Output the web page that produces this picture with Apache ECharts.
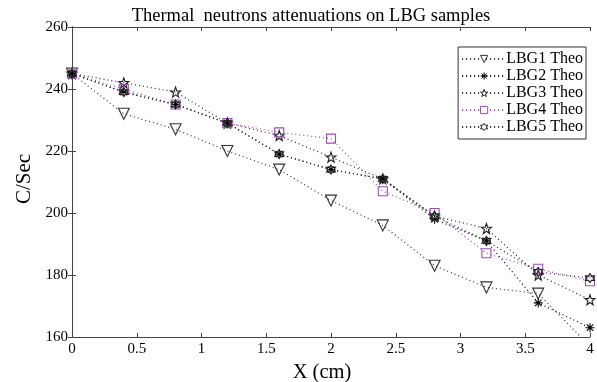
<!DOCTYPE html>
<html>
<head>
<meta charset="utf-8">
<script src="https://cdn.jsdelivr.net/npm/echarts@6/dist/echarts.min.js"></script>
<style>
  html, body { margin: 0; padding: 0; background: #fff; }
  #chart { width: 597px; height: 382px; }
</style>
</head>
<body>
<div id="chart"></div>
<script>
/* ---------- data ---------- */
const xs = [0, 0.4, 0.8, 1.2, 1.6, 2.0, 2.4, 2.8, 3.2, 3.6, 4.0];
const lbg1 = [245, 232, 227, 220, 214, 204, 196, 183, 176, 174, 157];
const lbg2 = [245, 239, 235, 229, 219, 214, 211, 198, 191, 171, 163];
const lbg3 = [245, 242, 239, 229, 225, 218, 211, 199, 195, 180, 172];
const lbg4 = [245, 240, 235, 229, 226, 224, 207, 200, 187, 182, 178];
const lbg5 = [245, 239, 235, 229, 219, 214, 211, 199, 191, 181, 179];
const seriesNames = ["LBG1 Theo", "LBG2 Theo", "LBG3 Theo", "LBG4 Theo", "LBG5 Theo"];
const xTicks = { min: 0, max: 4, interval: 0.5 };
const yTicks = { min: 160, max: 260, interval: 20 };

/* ---------- marker shapes ---------- */
function starPath(n, rOut, rIn) {
  let d = "";
  for (let i = 0; i < n * 2; i++) {
    const r = i % 2 === 0 ? rOut : rIn;
    const a = -Math.PI / 2 + (i * Math.PI) / n;
    d += (i === 0 ? "M" : "L") + (r * Math.cos(a)).toFixed(2) + "," + (r * Math.sin(a)).toFixed(2);
  }
  return "path://" + d + "Z";
}
const triDown = "path://M-5,-4L5,-4L0,5Z";
const asterisk = "path://M0,-5L0,5M-5,0L5,0M-3.6,-3.6L3.6,3.6M-3.6,3.6L3.6,-3.6";
const pentagram = starPath(5, 5, 2);
const hexagram = starPath(6, 5, 2.9);

const purple = "#9b4db3";

function pairs(ys) { return xs.map((x, i) => [x, ys[i]]); }

function mk(name, ys, symbol, size, color) {
  return {
    name: name,
    type: "line",
    data: pairs(ys),
    symbol: symbol,
    symbolSize: size,
    showSymbol: true,
    z: 3,
    lineStyle: { type: [1, 3], width: 1.2, color: color },
    itemStyle: { color: "rgba(255,255,255,0)", borderColor: color, borderWidth: 1.1 },
    emphasis: { disabled: true },
    animation: false,
  };
}

const chart = echarts.init(document.getElementById("chart"));

const serif = "Liberation Serif";
const axisCol = "#444";

const option = {
  animation: false,
  backgroundColor: "#fff",
  title: {
    text: "Thermal  neutrons attenuations on LBG samples",
    left: 306,
    textAlign: "center",
    top: 2,
    textStyle: { fontFamily: serif, fontSize: 18.5, fontWeight: "normal", color: "#000" },
  },
  grid: { left: 72, right: 7, top: 27, bottom: 45, containLabel: false, outerBoundsMode: "none" },
  legend: {
    orient: "vertical",
    right: 11,
    top: 47,
    padding: [4, 3, 4, 3],
    itemWidth: 44,
    itemHeight: 9,
    itemGap: 1,
    backgroundColor: "#fff",
    borderColor: "#333",
    borderWidth: 1,
    itemStyle: { color: "#fff", borderWidth: 1 },
    textStyle: { fontFamily: serif, fontSize: 16, lineHeight: 16, color: "#000", padding: [0, 0, 0, -5] },
    data: seriesNames,
  },
  xAxis: [
    {
      type: "value",
      min: xTicks.min,
      max: xTicks.max,
      interval: xTicks.interval,
      name: "X (cm)",
      nameLocation: "middle",
      nameGap: 22,
      nameTextStyle: { fontFamily: serif, fontSize: 20.5, color: "#000", padding: [0, 18, 0, 0] },
      axisLine: { show: true, lineStyle: { color: axisCol, width: 1 } },
      axisTick: { show: true, inside: true, length: 4, lineStyle: { color: axisCol } },
      axisLabel: { fontFamily: serif, fontSize: 15, color: "#000", margin: 5 },
      splitLine: { show: false },
    },
    {
      type: "value",
      position: "top",
      min: xTicks.min,
      max: xTicks.max,
      interval: xTicks.interval,
      axisLine: { show: true, lineStyle: { color: axisCol, width: 1 } },
      axisTick: { show: true, inside: true, length: 4, lineStyle: { color: axisCol } },
      axisLabel: { show: false },
      splitLine: { show: false },
    },
  ],
  yAxis: [
    {
      type: "value",
      min: yTicks.min,
      max: yTicks.max,
      interval: yTicks.interval,
      name: "C/Sec",
      nameLocation: "middle",
      nameGap: 35,
      nameTextStyle: { fontFamily: serif, fontSize: 21, color: "#000", padding: [0, 0, 0, 6] },
      axisLine: { show: true, lineStyle: { color: axisCol, width: 1 } },
      axisTick: { show: true, inside: true, length: 4, lineStyle: { color: axisCol } },
      axisLabel: { fontFamily: serif, fontSize: 15, color: "#000", margin: 4 },
      splitLine: { show: false },
    },
    {
      type: "value",
      position: "right",
      min: yTicks.min,
      max: yTicks.max,
      interval: yTicks.interval,
      axisLine: { show: true, lineStyle: { color: axisCol, width: 1 } },
      axisTick: { show: true, inside: true, length: 4, lineStyle: { color: axisCol } },
      axisLabel: { show: false },
      splitLine: { show: false },
    },
  ],
  series: [
    mk(seriesNames[0], lbg1, triDown, 11, "#333"),
    mk(seriesNames[1], lbg2, asterisk, 9, "#000"),
    mk(seriesNames[2], lbg3, pentagram, 10, "#222"),
    mk(seriesNames[3], lbg4, "rect", 9, purple),
    mk(seriesNames[4], lbg5, hexagram, 9, "#222"),
  ],
};

chart.setOption(option);
</script>
</body>
</html>
